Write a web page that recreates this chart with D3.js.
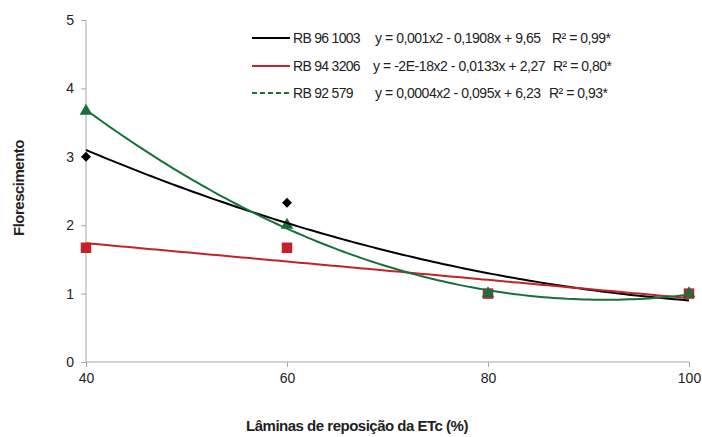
<!DOCTYPE html>
<html>
<head>
<meta charset="utf-8">
<script src="https://cdn.jsdelivr.net/npm/d3@7"></script>
<style>
  body { margin: 0; background: #fff; }
  text { font-family: "Liberation Sans", Arial, sans-serif; fill: #222; }
</style>
</head>
<body>
<script>
// Width and height
var w = 702;
var h = 437;

// data
var laminas = [40, 60, 80, 100];
var seriesNames = ["RB 96 1003", "RB 94 3206", "RB 92 579"];
var rb961003 = [3.0, 2.33, 1.0, 1.0];
var rb943206 = [1.67, 1.67, 1.0, 1.0];
var rb92579 = [3.67, 2.0, 1.0, 1.0];
var equations = ["y = 0,001x2 - 0,1908x + 9,65", "y = -2E-18x2 - 0,0133x + 2,27", "y = 0,0004x2 - 0,095x + 6,23"];
var r2 = ["R\u00b2 = 0,99*", "R\u00b2 = 0,80*", "R\u00b2 = 0,93*"];
var xTicks = [40, 60, 80, 100];
var yTicks = [0, 1, 2, 3, 4, 5];

var colors = ["#000000", "#c4222b", "#17703a"];
var symbols = ["diamond", "square", "triangle"];

var series = [rb961003, rb943206, rb92579].map(function(v, i) {
    return { name: seriesNames[i], values: v, eq: equations[i], r2: r2[i], color: colors[i], sym: symbols[i] };
});

var xScale = d3.scaleLinear().domain([40, 100]).range([86, 689]);
var yScale = d3.scaleLinear().domain([0, 5]).range([362, 20]);

var svg = d3.select("body").append("svg")
    .attr("width", w)
    .attr("height", h);

// axes
var xAxis = svg.append("g")
    .attr("transform", "translate(0," + yScale(0) + ")")
    .call(d3.axisBottom(xScale).tickValues(xTicks).tickFormat(d3.format("d")).tickSize(5).tickPadding(6));
var yAxis = svg.append("g")
    .attr("transform", "translate(" + xScale(40) + ",0)")
    .call(d3.axisLeft(yScale).tickValues(yTicks).tickFormat(d3.format("d")).tickSize(5).tickPadding(7));

[xAxis, yAxis].forEach(function(a) {
    a.selectAll("path, line").attr("stroke", "#a6a6a6");
    a.selectAll("text").attr("font-size", "14px").attr("fill", "#222");
    a.select(".domain").attr("d", null);
});
xAxis.append("line").attr("x1", xScale(40)).attr("x2", xScale(100)).attr("stroke", "#a6a6a6");
yAxis.append("line").attr("y1", yScale(0)).attr("y2", yScale(5)).attr("stroke", "#a6a6a6");

// least squares quadratic fit
function quadFit(xs, ys) {
    var s = [0, 0, 0, 0, 0], t = [0, 0, 0];
    xs.forEach(function(x, i) {
        for (var k = 0; k < 5; k++) s[k] += Math.pow(x, k);
        for (var k2 = 0; k2 < 3; k2++) t[k2] += ys[i] * Math.pow(x, k2);
    });
    var M = [[s[0], s[1], s[2], t[0]], [s[1], s[2], s[3], t[1]], [s[2], s[3], s[4], t[2]]];
    for (var i = 0; i < 3; i++) {
        for (var j = i + 1; j < 3; j++) {
            var f = M[j][i] / M[i][i];
            for (var k = i; k < 4; k++) M[j][k] -= f * M[i][k];
        }
    }
    var c = [0, 0, 0];
    for (var i2 = 2; i2 >= 0; i2--) {
        var sum = M[i2][3];
        for (var k3 = i2 + 1; k3 < 3; k3++) sum -= M[i2][k3] * c[k3];
        c[i2] = sum / M[i2][i2];
    }
    return function(x) { return c[0] + c[1] * x + c[2] * x * x; };
}

function symbolPath(sym, size) {
    if (sym == "triangle") return d3.symbol().type(d3.symbolTriangle).size(size)();
    return d3.symbol().type(d3.symbolSquare).size(size)();  // diamond = rotated square
}

// markers
series.forEach(function(s) {
    svg.append("g").selectAll("path")
        .data(s.values)
        .enter()
        .append("path")
        .attr("d", symbolPath(s.sym, s.sym == "diamond" ? 50 : (s.sym == "square" ? 110 : 70)))
        .attr("transform", function(d, i) {
            return "translate(" + xScale(laminas[i]) + "," + yScale(d) + ")" + (s.sym == "diamond" ? " rotate(45)" : "");
        })
        .attr("fill", s.color);
});

// trendlines
var line = d3.line()
    .x(function(d) { return xScale(d[0]); })
    .y(function(d) { return yScale(d[1]); });

series.forEach(function(s) {
    var f = quadFit(laminas, s.values);
    var pts = d3.range(40, 100.01, 0.5).map(function(x) { return [x, f(x)]; });
    svg.append("path")
        .attr("d", line(pts))
        .attr("fill", "none")
        .attr("stroke", s.color)
        .attr("stroke-width", 2);
});

// legend
var legendY = [38, 66, 93];
var eqX = [375, 373, 375];
var r2X = [552, 553, 549];
series.forEach(function(s, i) {
    var g = svg.append("g").attr("transform", "translate(0," + legendY[i] + ")");
    g.append("line")
        .attr("x1", 252).attr("x2", 290)
        .attr("stroke", s.color).attr("stroke-width", 2)
        .attr("stroke-dasharray", i == 2 ? "5,3" : null);
    g.append("text").attr("x", 293).attr("dy", "0.35em").attr("font-size", "14px")
        .attr("letter-spacing", "-0.7px").text(s.name);
    g.append("text").attr("x", eqX[i]).attr("dy", "0.35em").attr("font-size", "14px")
        .attr("letter-spacing", "-0.45px").text(s.eq);
    g.append("text").attr("x", r2X[i]).attr("dy", "0.35em").attr("font-size", "14px")
        .attr("letter-spacing", "-0.5px").text(s.r2);
});

// axis titles
svg.append("text")
    .attr("x", 357).attr("y", 431)
    .attr("text-anchor", "middle")
    .attr("font-size", "15px").attr("font-weight", "bold")
    .style("font-family", "'Liberation Sans Narrow', Arial, sans-serif")
    .attr("letter-spacing", "-0.5px")
    .text("Lâminas de reposição da ETc (%)");

svg.append("text")
    .attr("transform", "translate(24,188) rotate(-90)")
    .attr("text-anchor", "middle")
    .attr("font-size", "15px").attr("font-weight", "bold")
    .style("font-family", "'Liberation Sans Narrow', Arial, sans-serif")
    .attr("letter-spacing", "-0.5px")
    .text("Florescimento");
</script>
</body>
</html>
